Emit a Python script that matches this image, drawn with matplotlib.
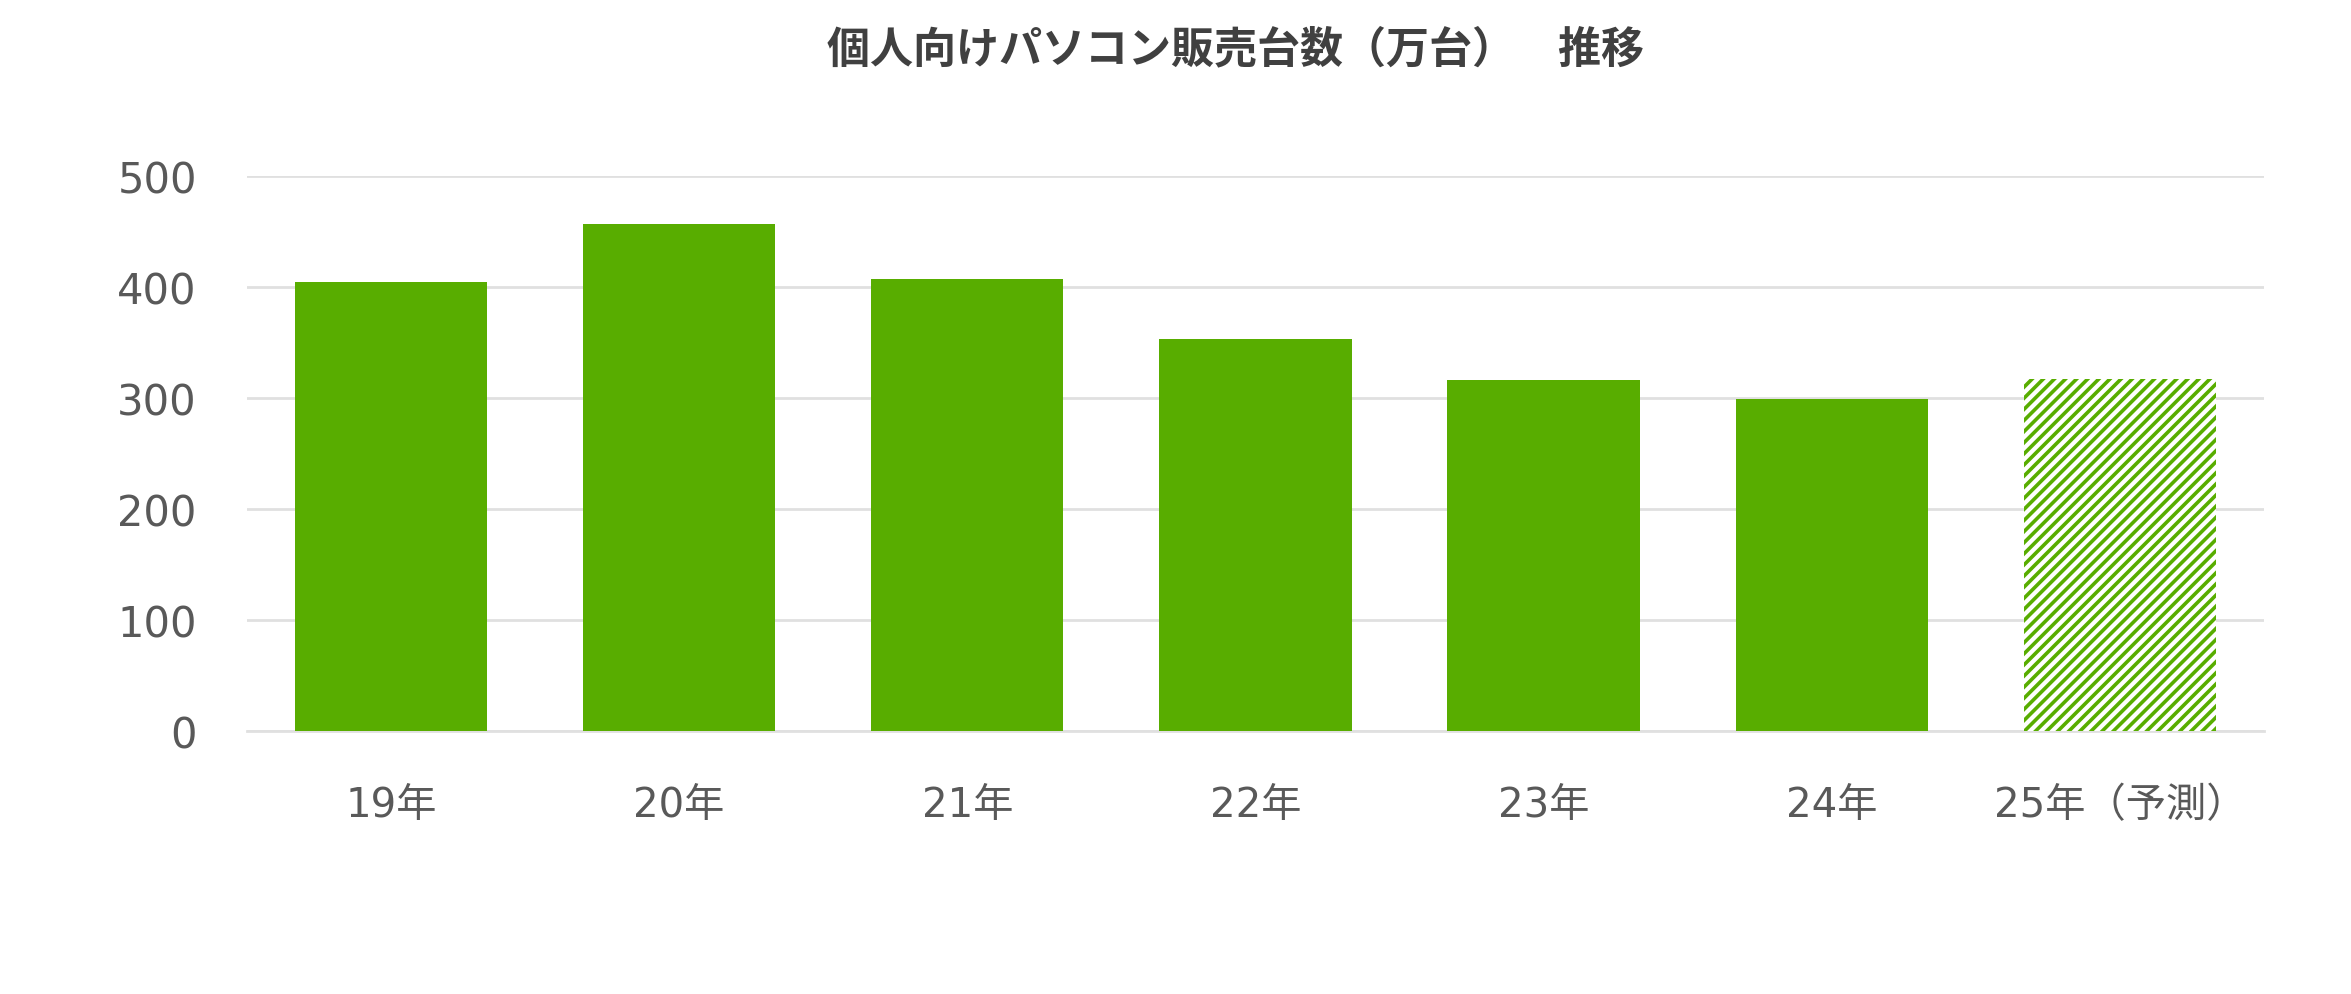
import matplotlib.pyplot as plt
import numpy as np

# -------------------------------------------------------
# Data
# -------------------------------------------------------
years = ["19年", "20年", "21年", "22年", "23年", "24年", "25年（予測）"]
units = [405, 457, 407, 353, 316, 299, 317]
forecast = [False, False, False, False, False, False, True]
yticks = [0, 100, 200, 300, 400, 500]

GREEN = "#58AD00"
GRID = "#E0E0E0"
TEXT = "#595959"

plt.rcParams['font.family'] = ['DejaVu Sans', 'Noto Sans CJK JP']
plt.rcParams['hatch.linewidth'] = 2.6

fig = plt.figure(figsize=(23.51, 9.95), dpi=100)
ax = fig.add_axes([0.105, 0.264, 0.858, 0.558])

x = np.arange(len(years))
for i in range(len(years)):
    if forecast[i]:
        ax.bar(x[i], units[i], width=0.667, facecolor="white", edgecolor=GREEN,
               hatch="///", linewidth=0, zorder=3)
    else:
        ax.bar(x[i], units[i], width=0.667, color=GREEN, linewidth=0, zorder=3)

ax.set_xlim(-0.5, len(years) - 0.5)
ax.set_ylim(0, 500)
ax.set_yticks(yticks)
ax.set_xticks(x)
ax.set_xticklabels(years)
ax.yaxis.grid(True, color=GRID, linewidth=2)
ax.set_axisbelow(True)

for s in ["top", "right", "left"]:
    ax.spines[s].set_visible(False)
ax.spines["bottom"].set_color(GRID)
ax.spines["bottom"].set_linewidth(2)

ax.tick_params(axis="y", length=0, pad=36, labelsize=30, labelcolor=TEXT)
ax.tick_params(axis="x", length=0, pad=39, labelsize=29, labelcolor=TEXT)

fig.text(0.5255, 0.95, "個人向けパソコン販売台数（万台）　推移", ha="center", va="center",
         fontsize=31, fontweight="bold", color="#404040",
         family=['Noto Sans CJK JP', 'DejaVu Sans'])

fig.savefig("out.png", dpi=100)
